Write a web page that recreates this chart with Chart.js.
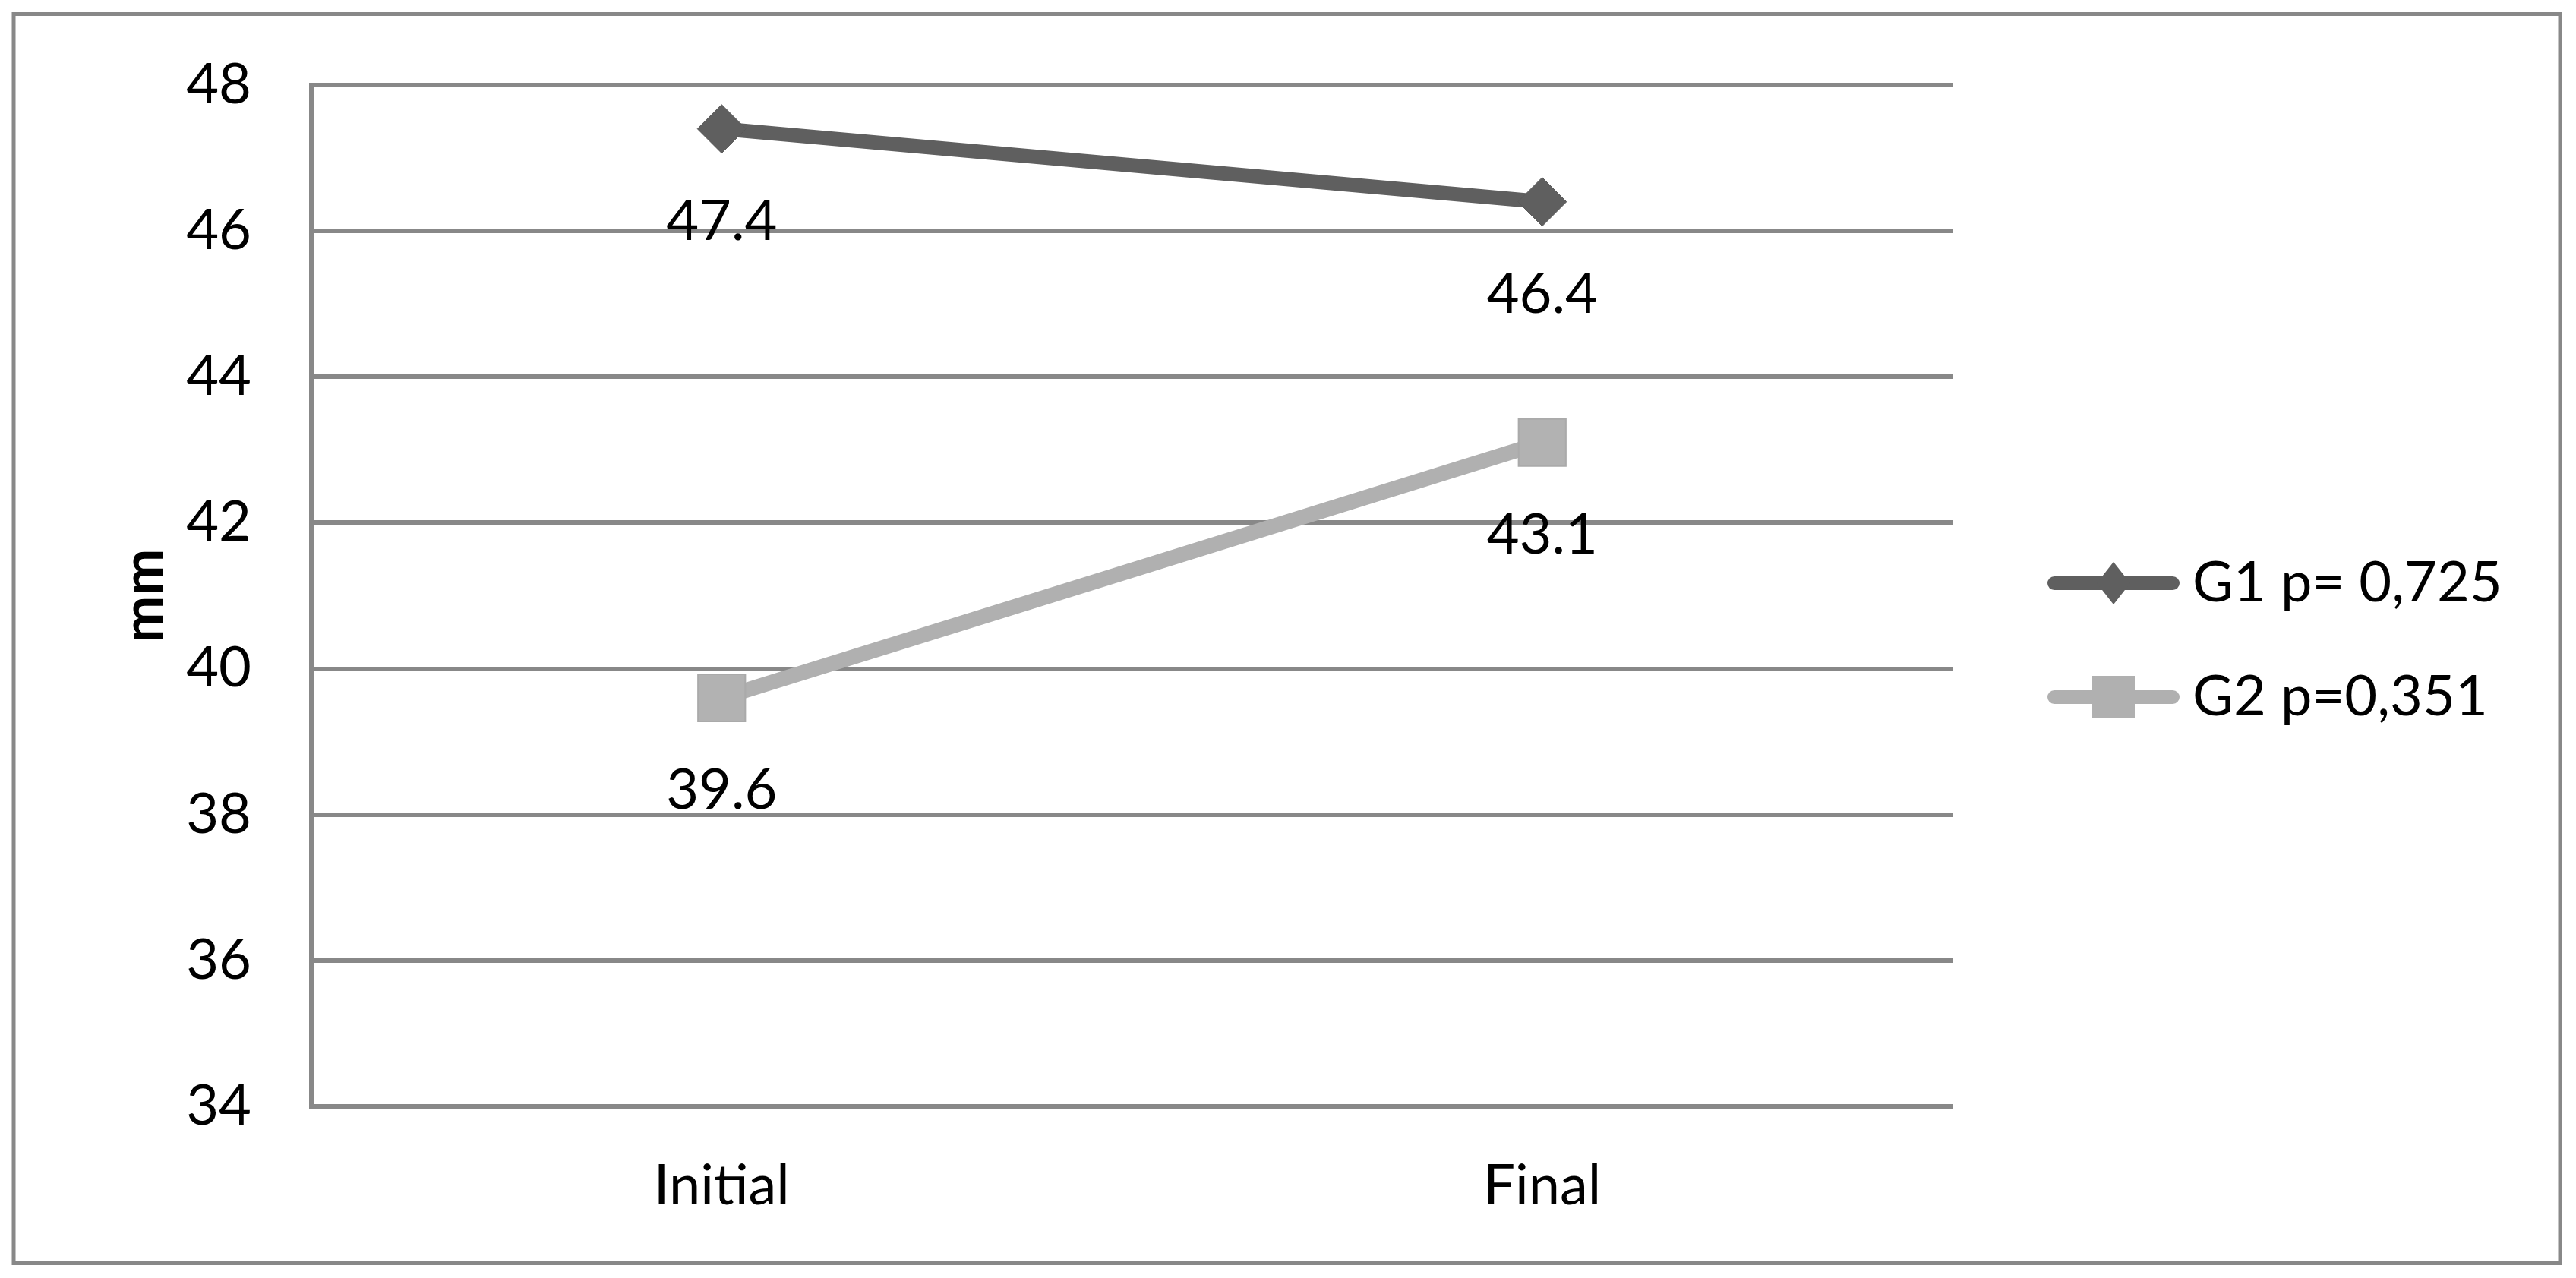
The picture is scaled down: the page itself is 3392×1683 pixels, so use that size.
<!DOCTYPE html>
<html><head><meta charset="utf-8">
<script src="https://cdn.jsdelivr.net/npm/chart.js@4/dist/chart.umd.min.js"></script>
<style>html,body{margin:0;padding:0;background:#fff;}#wrap{width:3392px;height:1683px;}</style>
</head><body><div id="wrap"><canvas id="c" width="3392" height="1683"></canvas></div>
<script>
const categories = ['Initial', 'Final'];
const seriesNames = ['G1 p= 0,725', 'G2 p=0,351'];
const g1Values = [47.4, 46.4];
const g2Values = [39.6, 43.1];
const yTicks = [34, 36, 38, 40, 42, 44, 46, 48];
const yTitle = 'mm';

const G1_COLOR = '#5f5f5f';
const G2_COLOR = '#b0b0b0';
const GRID = '#888888';
const FONT = 'Lato';
const FS = 74;

function makeIcon(color, shape) {
  const c = document.createElement('canvas');
  c.width = 174; c.height = 64;
  const x = c.getContext('2d');
  x.strokeStyle = color; x.lineWidth = 18; x.lineCap = 'round';
  x.beginPath(); x.moveTo(9, 32); x.lineTo(165, 32); x.stroke();
  x.fillStyle = color;
  x.beginPath();
  if (shape === 'diamond') {
    x.moveTo(87, 4); x.lineTo(109, 32); x.lineTo(87, 60); x.lineTo(65, 32); x.closePath();
  } else {
    x.rect(59, 4, 56, 56);
  }
  x.fill();
  return c;
}
const icons = [makeIcon(G1_COLOR, 'diamond'), makeIcon(G2_COLOR, 'square')];

const framePlugin = {
  id: 'frame',
  beforeDraw(chart) {
    const ctx = chart.ctx;
    ctx.save();
    ctx.fillStyle = '#fff';
    ctx.fillRect(0, 0, chart.width, chart.height);
    ctx.strokeStyle = GRID; ctx.lineWidth = 5;
    ctx.strokeRect(18, 18.5, 3353, 1645);
    ctx.restore();
  }
};

const labelPlugin = {
  id: 'valueLabels',
  afterDatasetsDraw(chart) {
    const ctx = chart.ctx;
    ctx.save();
    ctx.font = FS + 'px ' + FONT;
    ctx.fillStyle = '#000';
    ctx.textAlign = 'center';
    ctx.textBaseline = 'middle';
    chart.data.datasets.forEach((ds, i) => {
      const meta = chart.getDatasetMeta(i);
      meta.data.forEach((pt, j) => {
        ctx.fillText(ds.data[j].toFixed(1), pt.x, pt.y + 122);
      });
    });
    ctx.restore();
  }
};

const legendPlugin = {
  id: 'legendPlace',
  beforeLayout(chart) {
    const lg = chart.legend;
    if (lg && !lg._patched) {
      const f = lg.fit.bind(lg);
      lg.fit = function () { f(); this.width = 821; };
      lg._patched = true;
    }
  },
  afterLayout(chart) {
    const lg = chart.legend;
    if (!lg) return;
    lg.left = 2640; lg.right = lg.left + 740;
    lg.top = 655; lg.bottom = lg.top + 800;
  }
};

new Chart(document.getElementById('c'), {
  type: 'line',
  data: {
    labels: categories,
    datasets: [
      {
        label: seriesNames[0], data: g1Values,
        borderColor: G1_COLOR, backgroundColor: G1_COLOR, borderWidth: 19,
        pointStyle: 'rectRot', pointRadius: 32, pointBorderWidth: 1,
        pointBackgroundColor: G1_COLOR, pointBorderColor: '#595959'
      },
      {
        label: seriesNames[1], data: g2Values,
        borderColor: G2_COLOR, backgroundColor: G2_COLOR, borderWidth: 20,
        pointStyle: 'rect', pointRadius: 44, pointBorderWidth: 2,
        pointBackgroundColor: '#b2b2b2', pointBorderColor: '#aaaaaa'
      }
    ]
  },
  options: {
    responsive: false,
    animation: false,
    devicePixelRatio: 1,
    layout: { padding: { left: 141.6, right: 0, top: 112, bottom: 0 } },
    plugins: {
      tooltip: { enabled: false },
      legend: {
        position: 'right',
        align: 'start',
        labels: {
          usePointStyle: true,
          pointStyleWidth: 134,
          padding: 76,
          color: '#000',
          font: { family: FONT, size: FS },
          generateLabels(chart) {
            return chart.data.datasets.map((ds, i) => ({
              text: ds.label, datasetIndex: i, pointStyle: icons[i],
              fillStyle: 'rgba(0,0,0,0)', strokeStyle: 'rgba(0,0,0,0)', lineWidth: 0,
              fontColor: '#000', hidden: false
            }));
          }
        }
      }
    },
    scales: {
      x: {
        type: 'category',
        offset: true,
        grid: { display: false, drawTicks: false },
        border: { display: false },
        ticks: { color: '#000', padding: 61, font: { family: FONT, size: FS }, maxRotation: 0 },
        afterFit(s) { s.height = 226; s.paddingLeft = 0; s.paddingRight = 0; }
      },
      y: {
        min: 34, max: 48,
        afterBuildTicks(s) { s.ticks = yTicks.map(v => ({ value: v })); },
        grid: { color: GRID, lineWidth: 6, drawTicks: false },
        border: { display: true, color: GRID, width: 6 },
        ticks: { color: '#000', padding: 79, font: { family: FONT, size: FS } },
        title: { display: true, text: yTitle, color: '#000', font: { family: FONT, size: FS, weight: 'bold' } },
        afterFit(s) { s.width = 268.4; s.paddingTop = 0; s.paddingBottom = 0; }
      }
    }
  },
  plugins: [framePlugin, labelPlugin, legendPlugin]
});
</script>
</body></html>
